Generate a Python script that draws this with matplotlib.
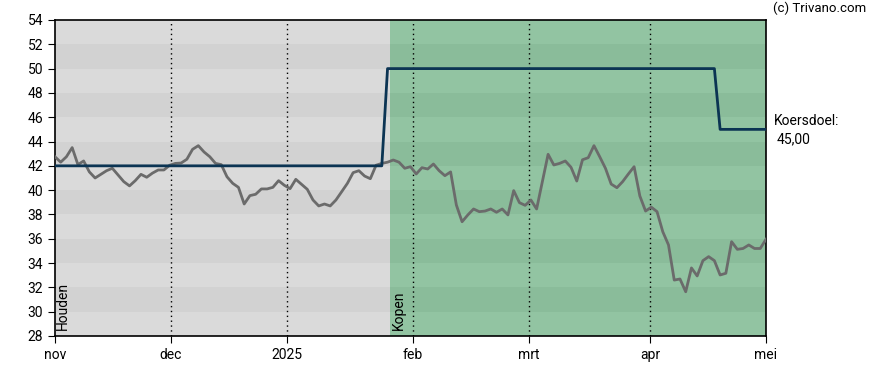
import matplotlib.pyplot as plt
from matplotlib.transforms import blended_transform_factory

plt.rcParams['font.family'] = ['Roboto', 'DejaVu Sans']

# daily closing prices, one per trading day (nov 2024 - apr 2025)
koers = [42.75, 42.3, 42.75, 43.5, 42.1, 42.4, 41.5, 41.0, 41.3, 41.6,
         41.8, 41.25, 40.7, 40.35, 40.78, 41.3, 41.06, 41.4, 41.66, 41.66,
         42.05, 42.2, 42.23, 42.54, 43.36, 43.66, 43.14, 42.75, 42.2, 42.1,
         41.1, 40.56, 40.23, 38.86, 39.55, 39.66, 40.1, 40.1, 40.23, 40.78,
         40.4, 40.12, 40.89, 40.48, 40.07, 39.19, 38.7, 38.86, 38.7, 39.19,
         39.87, 40.56, 41.44, 41.6, 41.16, 40.94, 42.05, 42.2, 42.3, 42.48,
         42.3, 41.8, 41.93, 41.33, 41.85, 41.74, 42.15, 41.6, 41.19, 41.5,
         38.78, 37.4, 37.96, 38.45, 38.23, 38.28, 38.45, 38.18, 38.45, 37.96,
         39.96, 38.97, 38.75, 39.19, 38.45, 40.7, 42.95, 42.07, 42.2, 42.4,
         41.88, 40.75, 42.5, 42.67, 43.66, 42.75, 41.8, 40.5, 40.2, 40.7,
         41.33, 41.93, 39.52, 38.28, 38.6, 38.23, 36.58, 35.49, 32.6, 32.69,
         31.64, 33.6, 32.94, 34.2, 34.53, 34.2, 33.02, 33.16, 35.76, 35.13,
         35.2, 35.49, 35.2, 35.2, 35.96]
dagen = list(range(len(koers)))

# price target: 42 until the upgrade, then 50, then 45
koersdoel = [42.0] * 58 + [50.0] * 58 + [45.0] * 9

maanden = ['nov', 'dec', '2025', 'feb', 'mrt', 'apr', 'mei']
maand_pos = [0, 20.2, 40.5, 62.4, 82.7, 103.8, 124]
advies_wissel = 58.5   # day of switch Houden -> Kopen

fig = plt.figure(figsize=(8.88, 3.7), dpi=100)
ax = fig.add_axes([0.0619, 0.0919, 0.8007, 0.8541])

ax.set_xlim(0, 124)
ax.set_ylim(28, 54)

# background: grey for Houden, green for Kopen, with darker 2-unit bands
ax.axvspan(0, advies_wissel, color='#dadada', zorder=0, lw=0)
ax.axvspan(advies_wissel, 124, color='#92c4a2', zorder=0, lw=0)
for lo in range(30, 54, 4):
    ax.fill_between([0, advies_wissel], lo, lo + 2, color='#d2d2d2', zorder=0.5, lw=0)
    ax.fill_between([advies_wissel, 124], lo, lo + 2, color='#8abc9a', zorder=0.5, lw=0)

for p in maand_pos[1:-1]:
    ax.axvline(p, color='black', ls=(0, (1, 2.5)), lw=1, zorder=1)

ax.plot(dagen, koers, color='#6b6b6b', lw=2, zorder=3)
ax.plot(dagen, koersdoel, color='#0b3453', lw=2, zorder=4)

ax.set_xticks(maand_pos)
ax.set_xticklabels(maanden)
ax.set_yticks(range(28, 55, 2))
ax.tick_params(labelsize=10, length=5, color='black', direction='out')
for s in ax.spines.values():
    s.set_linewidth(1.2)

trans = blended_transform_factory(ax.transData, ax.transAxes)
ax.text(1.4, 0.02, 'Houden', rotation=90, fontsize=10, ha='center', va='bottom',
        transform=trans, zorder=5)
ax.text(advies_wissel + 1.4, 0.02, 'Kopen', rotation=90, fontsize=10, ha='center',
        va='bottom', transform=trans, zorder=5)

fig.text(773 / 888, 1 - 8 / 370, '(c) Trivano.com', fontsize=9.5, ha='left', va='center')
fig.text(774 / 888, 1 - 121 / 370, 'Koersdoel:', fontsize=10, ha='left', va='center')
fig.text(777 / 888, 1 - 139 / 370, '45,00', fontsize=10, ha='left', va='center')

fig.savefig('out.png', dpi=100)
